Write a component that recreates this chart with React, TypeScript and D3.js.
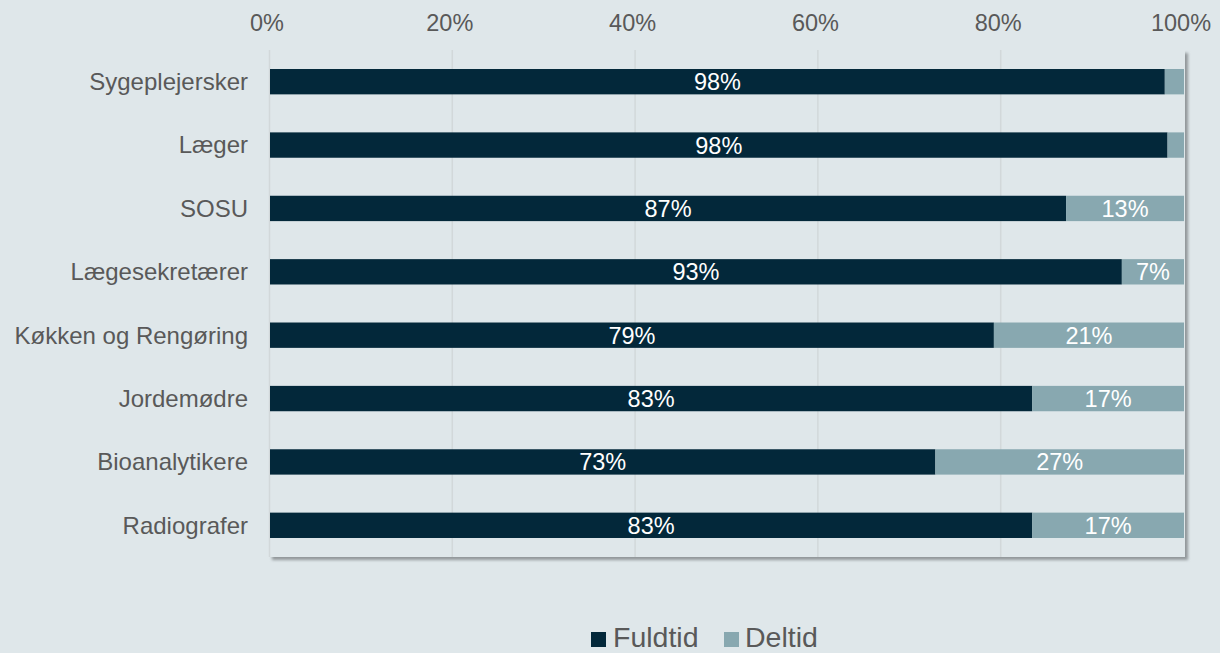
import React from "react";
import * as d3 from "d3";

const categories = [
  "Sygeplejersker",
  "Læger",
  "SOSU",
  "Lægesekretærer",
  "Køkken og Rengøring",
  "Jordemødre",
  "Bioanalytikere",
  "Radiografer",
];
const fuldtid = [97.9, 98.2, 87.1, 93.2, 79.2, 83.4, 72.8, 83.4];
const deltid = [2.1, 1.8, 12.9, 6.8, 20.8, 16.6, 27.2, 16.6];
const ticks = [0, 20, 40, 60, 80, 100];
const seriesNames = ["Fuldtid", "Deltid"];

const W = 1220, H = 653;
const FONT = "'Liberation Sans', Arial, sans-serif";
const colors = ["#03283a", "#88a8b0"];
const bg = "#dfe7ea";
const textColor = "#595959";

function App() {
  const plot = { left: 270, right: 1184, top: 50, bottom: 557 };
  const x = d3.scaleLinear().domain([0, 100]).range([plot.left, plot.right]);
  const y = d3.scaleBand<string>()
    .domain(categories)
    .range([plot.top, plot.bottom])
    .paddingInner(0.6)
    .paddingOuter(0.3);

  const rows = categories.map((c, i) => ({ c, vals: [fuldtid[i], deltid[i]] }));

  return (
    <svg width={W} height={H} style={{ position: "absolute", left: 0, top: 0 }} fontFamily={FONT}>
      <defs>
        <filter id="shadow" x="-5%" y="-5%" width="110%" height="110%">
          <feDropShadow dx="3" dy="3" stdDeviation="1.6" floodColor="#7f8486" floodOpacity="0.8" />
        </filter>
      </defs>
      <rect width={W} height={H} fill={bg} />

      {/* plot area with shadow */}
      <rect x={plot.left - 1} y={plot.top} width={plot.right - plot.left + 2} height={plot.bottom - plot.top}
        fill={bg} filter="url(#shadow)" />

      {/* gridlines */}
      {ticks.slice(0, -1).map(t => (
        <line key={t} x1={x(t) - 0.5} x2={x(t) - 0.5} y1={plot.top} y2={plot.bottom}
          stroke="#d2d8da" strokeWidth={1.5} />
      ))}

      {/* tick labels */}
      {ticks.map(t => (
        <text key={t} x={x(t) - 3} y={31} textAnchor="middle" fontSize={23.5} fill={textColor}>
          {t}%
        </text>
      ))}

      {/* bars */}
      {rows.map(r => {
        let acc = 0;
        const by = y(r.c)!;
        return (
          <g key={r.c}>
            <text x={248} y={by + y.bandwidth() / 2} dy="0.35em" textAnchor="end" fontSize={24} fill={textColor}>
              {r.c}
            </text>
            {r.vals.map((v, j) => {
              const x0 = x(acc);
              acc += v;
              const x1 = x(acc);
              return (
                <g key={j}>
                  <rect x={x0} y={by} width={x1 - x0} height={y.bandwidth()} fill={colors[j]} />
                  {v >= 5 && (
                    <text x={(x0 + x1) / 2} y={by + y.bandwidth() / 2} dy="0.36em" textAnchor="middle"
                      fontSize={23.5} fill="#ffffff">
                      {Math.round(v)}%
                    </text>
                  )}
                </g>
              );
            })}
          </g>
        );
      })}

      {/* legend */}
      <g>
        <rect x={591} y={632} width={15} height={15} fill={colors[0]} />
        <text x={613} y={647} fontSize={28.5} fill={textColor}>{seriesNames[0]}</text>
        <rect x={724} y={632} width={15} height={15} fill={colors[1]} />
        <text x={745} y={647} fontSize={28.5} fill={textColor}>{seriesNames[1]}</text>
      </g>
    </svg>
  );
}

export default App;
